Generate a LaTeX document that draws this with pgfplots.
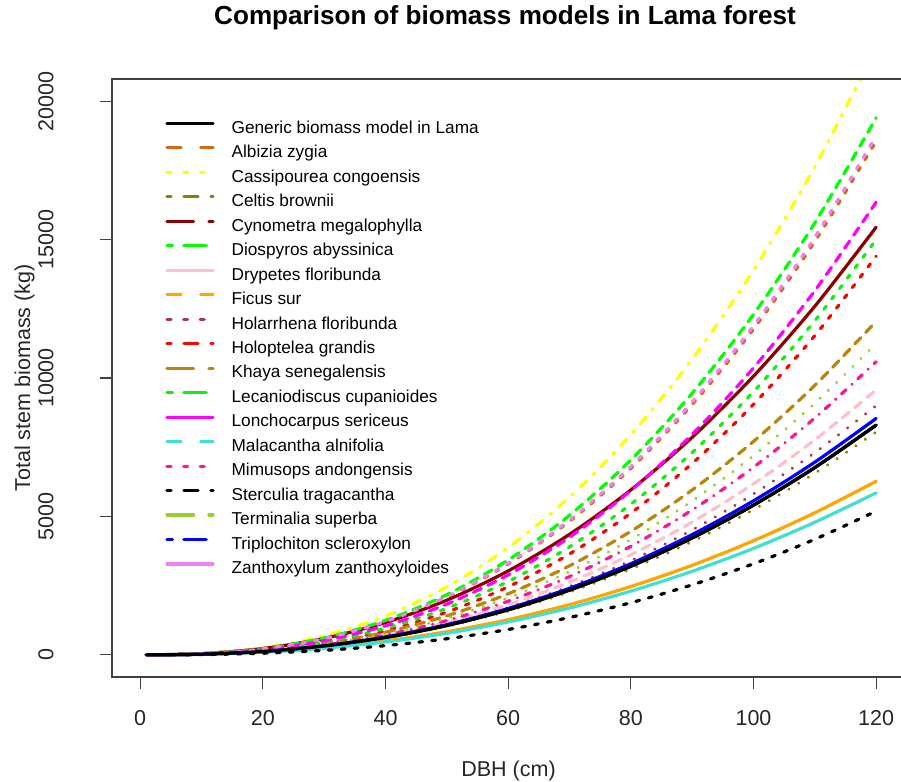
\documentclass[border=0pt]{standalone}
\usepackage{fontspec}
\setmainfont{Liberation Sans}
\usepackage{pgfplots}
\usepackage{pgfplotstable}
\pgfplotsset{compat=1.18}

% R palette
\definecolor{cAlb}{HTML}{D2691E}
\definecolor{cCas}{HTML}{FFFF00}
\definecolor{cCel}{HTML}{8B8000}
\definecolor{cCyn}{HTML}{8B0000}
\definecolor{cDio}{HTML}{00FF00}
\definecolor{cDry}{HTML}{FFC0CB}
\definecolor{cFic}{HTML}{FFA500}
\definecolor{cHol}{HTML}{B03060}
\definecolor{cHpt}{HTML}{FF0000}
\definecolor{cKha}{HTML}{B8860B}
\definecolor{cLec}{HTML}{11EE11}
\definecolor{cLon}{HTML}{FF00FF}
\definecolor{cMal}{HTML}{40E0D0}
\definecolor{cMim}{HTML}{FF1493}
\definecolor{cTer}{HTML}{9ACD32}
\definecolor{cTri}{HTML}{0000FF}
\definecolor{cZan}{HTML}{EE82EE}

% line types as drawn in the legend (lty 1..6)
\tikzset{
  lsolid/.style={solid},
  ldashed/.style={dash pattern=on 7bp off 9.8bp},
  ldotted/.style={dash pattern=on 2bp off 6.3bp},
  ldotdash/.style={dash pattern=on 2bp off 6.5bp on 7bp off 6.5bp},
  llongdash/.style={dash pattern=on 13.3bp off 7.7bp},
  ltwodash/.style={dash pattern=on 2.8bp off 5.6bp on 11.2bp off 5.6bp},
  % line types as they look on the curves
  psolid/.style={solid},
  pdashed/.style={dash pattern=on 1.9bp off 4.6bp},
  plongdash/.style={dash pattern=on 4.4bp off 3.6bp},
  pdotted/.style={dash pattern=on 0.1bp off 5.6bp},
  ptwodash/.style={dash pattern=on 1bp off 4.6bp on 4.4bp off 4.6bp},
  pdotdash/.style={dash pattern=on 0.1bp off 4bp on 3bp off 4bp},
}
\pgfplotsset{
  leg/.style={legend image code/.code={\draw[##1, #1] (0bp,3bp) -- (23bp,3bp);}},
}

% stem biomass (kg) by DBH (cm)
\pgfplotstableread{
x   gen  alb   cas   kha   cyn   dio   dry  fic  hol  hpt   cel  lec   lon   mal  mim   ste  ter   tri  zan
1   0    0     0     0     0     0     0    0    0    0     0    0     0     0    0     0    0     0    0
10  24   37    44    27    45    39    25   21   23   25    23   30    33    19   24    10   26    25   38
20  123  210   249   149   229   220   130  102  122  149   119  170   185   95   131   59   140   127  213
30  319  580   685   404   594   606   344  258  323  420   310  469   511   241  355   162  377   328  586
40  628  1191  1407  817   1169  1245  685  501  644  875   609  962   1049  467  718   333  762   646  1203
50  1061 2080  2457  1411  1975  2174  1171 837  1101 1545  1029 1681  1832  781  1240  582  1317  1091 2101
60  1628 3281  3876  2206  3031  3430  1813 1273 1705 2459  1579 2652  2890  1188 1939  917  2059  1675 3315
70  2339 4824  5698  3217  4353  5042  2625 1815 2469 3643  2268 3899  4249  1693 2827  1349 3004  2406 4873
80  3201 6735  7956  4462  5958  7040  3616 2467 3401 5120  3104 5443  5933  2302 3921  1883 4166  3293 6804
90  4222 9041  10681 5955  7858  9451  4798 3235 4512 6914  4094 7307  7965  3018 5233  2528 5560  4344 9134
100 5408 11766 13899 7710  10066 12298 6179 4123 5811 9047  5245 9509  10365 3846 6776  3290 7198  5564 11886
110 6765 14932 17639 9736  12593 15608 7767 5133 7304 11534 6561 12068 13154 4789 8557  4175 9090  6961 15085
120 8300 18560 21925 12050 15450 19400 9570 6270 9000 14400 8050 15000 16350 5850 10590 5190 11250 8540 18750
}\biomass

\begin{document}
\begin{tikzpicture}
\begin{axis}[
    scale only axis,
    width=396.5bp, height=299bp,
    xmin=-4.6, xmax=124.7,
    ymin=-800, ymax=20800,
    xtick={0,20,...,120},
    ytick={0,5000,...,20000},
    scaled ticks=false,
    /pgf/number format/assume math mode=true,
    /pgf/number format/1000 sep={},
    tick align=outside,
    major tick length=6bp,
    axis line style={draw=none},
    tick style={black!75, line width=0.6bp},
    xtick pos=bottom, ytick pos=left,
    ticklabel style={font=\fontsize{10.8}{13}\selectfont, text=black!85},
    xticklabel style={anchor=north, inner sep=0pt},
    xticklabel shift=10.5bp,
    yticklabel style={xshift=-23bp, rotate=90, anchor=south, inner sep=0pt},
    title={Comparison of biomass models in Lama forest},
    title style={at={(axis description cs:0.4956,1.0719)}, anchor=base,
      font=\bfseries\fontsize{13.1}{15}\selectfont},
    xlabel={DBH (cm)},
    xlabel style={at={(axis description cs:0.5,-0.1672)}, anchor=base,
      font=\fontsize{10.8}{13}\selectfont, text=black!85},
    ylabel={Total stem biomass (kg)},
    ylabel style={at={(axis description cs:-0.1034,0.5)}, anchor=base, rotate=0,
      font=\fontsize{10.8}{13}\selectfont, text=black!85},
    every axis plot/.append style={line width=1.6bp, line cap=round, smooth},
    legend image code/.code={\draw[#1] (0bp,3bp) -- (23bp,3bp);},
    legend style={draw=none, fill=none,
      at={(rel axis cs:0.0593,0.9435)}, anchor=north west,
      font=\fontsize{8.65}{10}\selectfont,
      row sep=0pt, column sep=8.5bp,
      nodes={inner sep=0pt, text height=8bp, text depth=4.24bp}},
    legend cell align=left,
]
\addplot[black, psolid, leg=lsolid] table[y=gen] {\biomass};
\addlegendentry{Generic biomass model in Lama}
\addplot[cAlb, pdashed, leg=ldashed] table[y=alb] {\biomass};
\addlegendentry{Albizia zygia}
\addplot[cCas, ptwodash, leg=ldotted] table[y=cas] {\biomass};
\addlegendentry{Cassipourea congoensis}
\addplot[cCel, pdotted, leg=ldotdash] table[y=cel] {\biomass};
\addlegendentry{Celtis brownii}
\addplot[cCyn, psolid, leg=llongdash] table[y=cyn] {\biomass};
\addlegendentry{Cynometra megalophylla}
\addplot[cDio, plongdash, leg=ltwodash] table[y=dio] {\biomass};
\addlegendentry{Diospyros abyssinica}
\addplot[cDry, plongdash, leg=lsolid] table[y=dry] {\biomass};
\addlegendentry{Drypetes floribunda}
\addplot[cFic, psolid, leg=ldashed] table[y=fic] {\biomass};
\addlegendentry{Ficus sur}
\addplot[cHol, pdotted, leg=ldotted] table[y=hol] {\biomass};
\addlegendentry{Holarrhena floribunda}
\addplot[cHpt, pdashed, leg=ldotdash] table[y=hpt] {\biomass};
\addlegendentry{Holoptelea grandis}
\addplot[cKha, plongdash, leg=llongdash] table[y=kha] {\biomass};
\addlegendentry{Khaya senegalensis}
\addplot[cLec, pdashed, leg=ltwodash] table[y=lec] {\biomass};
\addlegendentry{Lecaniodiscus cupanioides}
\addplot[cLon, plongdash, leg=lsolid] table[y=lon] {\biomass};
\addlegendentry{Lonchocarpus sericeus}
\addplot[cMal, psolid, leg=ldashed] table[y=mal] {\biomass};
\addlegendentry{Malacantha alnifolia}
\addplot[cMim, pdotdash, leg=ldotted] table[y=mim] {\biomass};
\addlegendentry{Mimusops andongensis}
\addplot[black, pdashed, leg=ldotdash] table[y=ste] {\biomass};
\addlegendentry{Sterculia tragacantha}
\addplot[cTer, pdotted, leg=llongdash] table[y=ter] {\biomass};
\addlegendentry{Terminalia superba}
\addplot[cTri, psolid, leg=ltwodash] table[y=tri] {\biomass};
\addlegendentry{Triplochiton scleroxylon}
\addplot[cZan, pdashed, leg=lsolid] table[y=zan] {\biomass};
\addlegendentry{Zanthoxylum zanthoxyloides}
% generic model again on top
\addplot[black, psolid, forget plot] table[y=gen] {\biomass};
\coordinate (bl) at (rel axis cs:0,0);
\coordinate (tr) at (rel axis cs:1,1);
\end{axis}
% plot frame (right side falls outside the picture)
\draw[black!75, line width=0.6bp] (tr) -- (bl |- tr) -- (bl) -- (tr |- bl);
\pgfresetboundingbox
\path ([shift={(-56bp,-52.5bp)}]bl) rectangle ([shift={(-2bp,39.5bp)}]tr);
\end{tikzpicture}
\end{document}
